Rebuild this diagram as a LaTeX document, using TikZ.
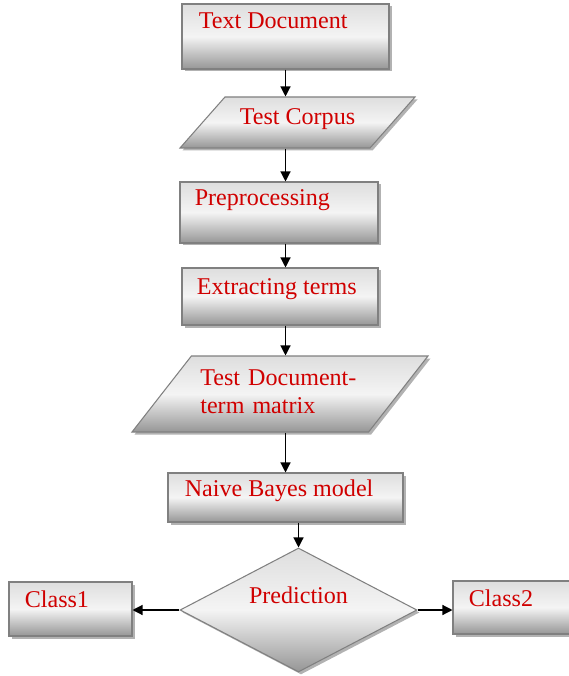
\documentclass[tikz,border=0pt]{standalone}
\usepackage{fontspec}
\setmainfont{Liberation Serif}
\usetikzlibrary{arrows.meta,positioning,shapes.geometric,shadows}
\definecolor{boxedge}{RGB}{128,128,128}
\definecolor{boxtop}{RGB}{222,222,222}
\definecolor{boxmid}{RGB}{244,244,244}
\definecolor{boxbot}{RGB}{150,150,150}
\definecolor{textred}{RGB}{208,0,0}
\tikzset{
  box/.style        = {draw=boxedge, line width=0.6pt, inner sep=0pt,
                       top color=boxtop, bottom color=boxbot, middle color=boxmid,
                       drop shadow={shadow xshift=0.05cm, shadow yshift=-0.05cm,
                                    fill=black, opacity=0.3}},
  stepbox/.style 2 args = {box, rectangle, minimum width=#1, minimum height=#2},
  databox/.style n args = {4}{box, trapezium, trapezium stretches body,
                       trapezium left angle=#3, trapezium right angle=#4,
                       minimum width=#1, minimum height=#2},
  decide/.style 2 args  = {box, diamond, minimum width=#1, minimum height=#2},
  lbl/.style        = {text=textred, font=\fontsize{13.7}{16.5}\selectfont, inner sep=0pt},
  flow/.style       = {-{Triangle[length=2mm,width=2mm]}, line width=0.7pt},
}

\begin{document}
\begin{tikzpicture}
  \useasboundingbox (0,0) rectangle (11.36,-13.52);

  \node[stepbox={4.14cm}{1.30cm}] (doc) at (5.71,-0.73) {};
  \node[databox={4.70cm}{1.02cm}{48.6}{131.4},inner ysep=0.51cm] (corpus) at (5.95,-2.45) {};
  \node[stepbox={3.96cm}{1.22cm}] (prep) at (5.58,-4.25) {};
  \node[stepbox={3.92cm}{1.14cm}] (extr) at (5.60,-5.93) {};
  \node[databox={5.92cm}{1.52cm}{52}{128},inner ysep=0.76cm] (matrix) at (5.60,-7.88) {};
  \node[stepbox={4.70cm}{0.98cm}] (naive) at (5.71,-9.95) {};
  \node[decide={4.74cm}{2.48cm}] (pred) at (5.97,-12.20) {};
  \node[stepbox={2.46cm}{1.08cm}] (class1) at (1.41,-12.18) {};
  \node[stepbox={2.40cm}{1.06cm}] (class2) at (10.26,-12.15) {};

  \node[lbl,anchor=base west] (doctext) at ([xshift=0.34cm,yshift=-0.50cm]doc.north west) {Text Document};
  \node[lbl,anchor=base] (corpustext) at ([yshift=-0.56cm]corpus.north) {Test Corpus};
  \node[lbl,anchor=base west] (preptext) at ([xshift=0.30cm,yshift=-0.48cm]prep.north west) {Preprocessing};
  \node[lbl,anchor=base west] (extrtext) at ([xshift=0.30cm,yshift=-0.54cm]extr.north west) {Extracting terms};
  \node[lbl,anchor=base west,text width=5cm,align=left,font=\fontsize{13.7}{16.5}\selectfont]
       (matrixtext) at (4.00,-7.70) {Test Document-\\term matrix};
  \node[lbl,anchor=base west] (naivetext) at ([xshift=0.34cm,yshift=-0.48cm]naive.north west) {Naive Bayes model};
  \node[lbl,anchor=base] (predtext) at ([yshift=0.14cm]pred.center) {Prediction};
  \node[lbl,anchor=base west] (class1text) at ([xshift=0.32cm,yshift=-0.52cm]class1.north west) {Class1};
  \node[lbl,anchor=base west] (class2text) at ([xshift=0.32cm,yshift=-0.52cm]class2.north west) {Class2};

  \draw[flow] (doc.south) -- (doc.south |- corpus.north);
  \draw[flow] (corpus.south -| doc.south) -- (prep.north -| doc.south);
  \draw[flow] (prep.south -| doc.south) -- (extr.north -| doc.south);
  \draw[flow] (extr.south -| doc.south) -- (matrix.north -| doc.south);
  \draw[flow] (matrix.south -| naive.north) -- (naive.north);
  \draw[flow] (naive.south -| pred.north) -- (pred.north);
  \draw[flow] (pred.west) -- (pred.west -| class1.east);
  \draw[flow] (pred.east) -- (pred.east -| class2.west);
\end{tikzpicture}
\end{document}
